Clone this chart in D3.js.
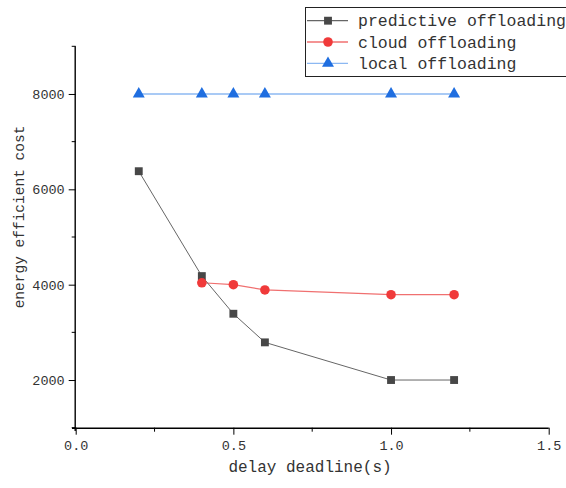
<!DOCTYPE html>
<html><head><meta charset="utf-8">
<script src="https://cdn.jsdelivr.net/npm/d3@7"></script>
<style>body{margin:0;background:#fff}svg{display:block}</style>
</head><body><svg id="c" width="566" height="488"></svg>
<script>
const xValues = [0.2, 0.4, 0.5, 0.6, 1.0, 1.2];
const predictive = [6380, 4180, 3390, 2790, 2000, 2000];
const cloudX = [0.4, 0.5, 0.6, 1.0, 1.2];
const cloud = [4040, 4000, 3890, 3790, 3790];
const local = [8000, 8000, 8000, 8000, 8000, 8000];
const xTicks = [0, 0.5, 1.0, 1.5];
const xMinor = [0.25, 0.75, 1.25];
const yTicks = [2000, 4000, 6000, 8000];
const yMinor = [1000, 3000, 5000, 7000, 9000];
const seriesNames = ["predictive offloading", "cloud offloading", "local offloading"];

const svg = d3.select("#c");
const x = d3.scaleLinear().domain([0, 1.5]).range([75.7, 548.7]);
const y = d3.scaleLinear().domain([1000, 9000]).range([427.7, 46.3]);
const font = "'Liberation Mono', 'DejaVu Sans Mono', monospace";
const textCol = "#333";

// axes
const xAxis = d3.axisBottom(x).tickValues(xTicks).tickSize(7).tickPadding(6)
  .tickFormat(d3.format(".1f"));
const gx = svg.append("g").attr("transform", "translate(0,427.7)").call(xAxis);
gx.append("g").selectAll("line").data(xMinor).join("line")
  .attr("x1", d => x(d)).attr("x2", d => x(d)).attr("y1", 0).attr("y2", 4).attr("stroke", "#000");
const yAxis = d3.axisLeft(y).tickValues(yTicks).tickSize(7).tickPadding(4).tickFormat(d3.format("d"));
const gy = svg.append("g").attr("transform", "translate(75.7,0)").call(yAxis);
gy.append("g").selectAll("line").data(yMinor).join("line")
  .attr("x1", 0).attr("x2", -4).attr("y1", d => y(d)).attr("y2", d => y(d)).attr("stroke", "#000");
[gx, gy].forEach(g => {
  g.select(".domain").attr("stroke", "#000").attr("stroke-width", 1.4);
  g.selectAll(".tick line").attr("stroke", "#000");
  g.selectAll(".tick text").attr("font-family", font).attr("font-size", 13.5).attr("fill", textCol);
});
gx.select(".domain").attr("d", "M72,0.5H548.7");
gy.select(".domain").attr("d", "M-0.5,46.3V431");

svg.append("text").attr("x", 310).attr("y", 472).attr("text-anchor", "middle")
  .attr("font-family", font).attr("font-size", 16).attr("fill", textCol).text("delay deadline(s)");
svg.append("text").attr("transform", "translate(24,217) rotate(-90)").attr("text-anchor", "middle")
  .attr("font-family", font).attr("font-size", 14.5).attr("fill", textCol).text("energy efficient cost");

const line = d3.line().x(d => x(d[0])).y(d => y(d[1]));
const pData = xValues.map((v, i) => [v, predictive[i]]);
const cData = cloudX.map((v, i) => [v, cloud[i]]);
const lData = xValues.map((v, i) => [v, local[i]]);

svg.append("path").attr("d", line(lData)).attr("fill", "none").attr("stroke", "#8cb8f2").attr("stroke-width", 1.5);
svg.append("path").attr("d", line(cData)).attr("fill", "none").attr("stroke", "#f07070").attr("stroke-width", 1.2);
svg.append("path").attr("d", line(pData)).attr("fill", "none").attr("stroke", "#666").attr("stroke-width", 1);

const sq = d3.symbol().type(d3.symbolSquare).size(62);
const ci = d3.symbol().type(d3.symbolCircle).size(72);
const tr = d3.symbol().type(d3.symbolTriangle).size(62);
const colSq = "#474747", colCi = "#f03a3a", colTr = "#1f6ee0";

svg.append("g").selectAll("path").data(lData).join("path")
  .attr("d", tr).attr("transform", d => `translate(${x(d[0])},${y(d[1])})`).attr("fill", colTr);
svg.append("g").selectAll("path").data(pData).join("path")
  .attr("d", sq).attr("transform", d => `translate(${x(d[0])},${y(d[1])})`).attr("fill", colSq);
svg.append("g").selectAll("path").data(cData).join("path")
  .attr("d", ci).attr("transform", d => `translate(${x(d[0])},${y(d[1])})`).attr("fill", colCi);

// legend
const lg = svg.append("g");
lg.append("rect").attr("x", 305.5).attr("y", 7.5).attr("width", 270).attr("height", 69)
  .attr("fill", "#fff").attr("stroke", "#222").attr("stroke-width", 1);
const legendItems = [
  {name: seriesNames[0], line: "#666", mark: sq, col: colSq},
  {name: seriesNames[1], line: "#f07070", mark: ci, col: colCi},
  {name: seriesNames[2], line: "#8cb8f2", mark: tr, col: colTr}
];
legendItems.forEach((it, i) => {
  const cy = 20.7 + i * 21.3;
  lg.append("line").attr("x1", 307).attr("x2", 348).attr("y1", cy).attr("y2", cy)
    .attr("stroke", it.line).attr("stroke-width", 1.3);
  lg.append("path").attr("d", it.mark).attr("transform", `translate(328,${cy})`).attr("fill", it.col);
  lg.append("text").attr("x", 358).attr("y", cy + 5.5).attr("font-family", font)
    .attr("font-size", 16.5).attr("fill", textCol).text(it.name);
});
</script></body></html>
